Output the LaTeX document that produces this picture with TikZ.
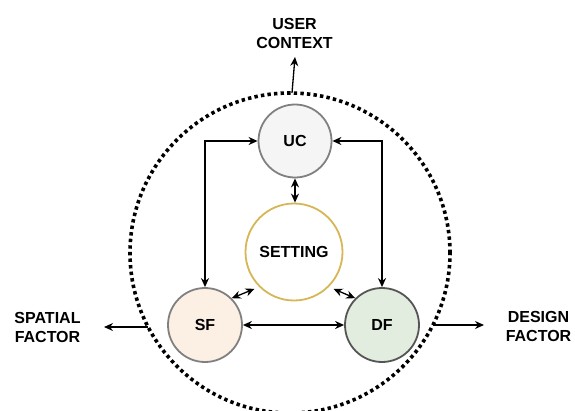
\documentclass[tikz,border=0pt]{standalone}
\usepackage{fontspec}
\setmainfont{Liberation Sans}
\usetikzlibrary{arrows.meta}
\definecolor{ucfill}{HTML}{F5F5F5}
\definecolor{ucdraw}{HTML}{808080}
\definecolor{sffill}{HTML}{FCEFE4}
\definecolor{dffill}{HTML}{E2EDDF}
\definecolor{dfdraw}{HTML}{555555}
\definecolor{setdraw}{HTML}{D6B656}
\tikzset{
  lbl/.style={font=\fontsize{16}{19}\selectfont\bfseries, align=center, inner sep=0pt},
  circ/.style={circle, line width=1.8pt, inner sep=0pt, font=\fontsize{16}{19}\selectfont\bfseries},
  conn/.style={line width=1.3pt, -{Stealth[length=9pt,width=8pt]}},
  dconn/.style={line width=1.3pt, {Stealth[length=9pt,width=8pt]}-{Stealth[length=9pt,width=8pt]}},
  dotring/.style={circle, draw, line width=3.6pt, dash pattern=on 3.4pt off 3.2pt, minimum size=320pt, inner sep=0pt}
}
\begin{document}
\begin{tikzpicture}[x=1pt,y=-1pt]
\useasboundingbox (0,0) rectangle (575,410);
\node[dotring] (ring) at (290,253) {};
\node[circ, draw=ucdraw, fill=ucfill, minimum size=73pt] (uc) at (295,141) {UC};
\node[circ, draw=setdraw, fill=white, minimum size=97pt] (set) at (294,252) {SETTING};
\node[circ, draw=ucdraw, fill=sffill, minimum size=74pt] (sf) at (205,325) {SF};
\node[circ, draw=dfdraw, fill=dffill, minimum size=74pt] (df) at (382,325) {DF};

\node[lbl] (tuc) at (294.5,33) {USER\\CONTEXT};
\node[lbl] (tsf) at (47.5,327) {SPATIAL\\FACTOR};
\node[lbl] (tdf) at (538.5,326) {DESIGN\\FACTOR};

\coordinate (ucs) at (292,93);
\coordinate (uce) at (295,57);
\coordinate (sfs) at (148,327);
\coordinate (sfe) at (104,327);
\coordinate (dfs) at (433,325);
\coordinate (dfe) at (484,325);

\draw[dconn] (uc.west) -| (sf.north);
\draw[dconn] (uc.east) -| (df.north);
\draw[dconn] (sf.east) -- (df.west);
\draw[dconn] (uc.south) -- (uc.south |- set.north);
\draw[dconn, shorten >=5pt] (sf.45) -- (set.225);
\draw[dconn, shorten <=5pt] (set.-45) -- (df.135);

\draw[conn] (ucs) -- (uce);
\draw[conn] (sfs) -- (sfe);
\draw[conn] (dfs) -- (dfe);
\end{tikzpicture}
\end{document}
